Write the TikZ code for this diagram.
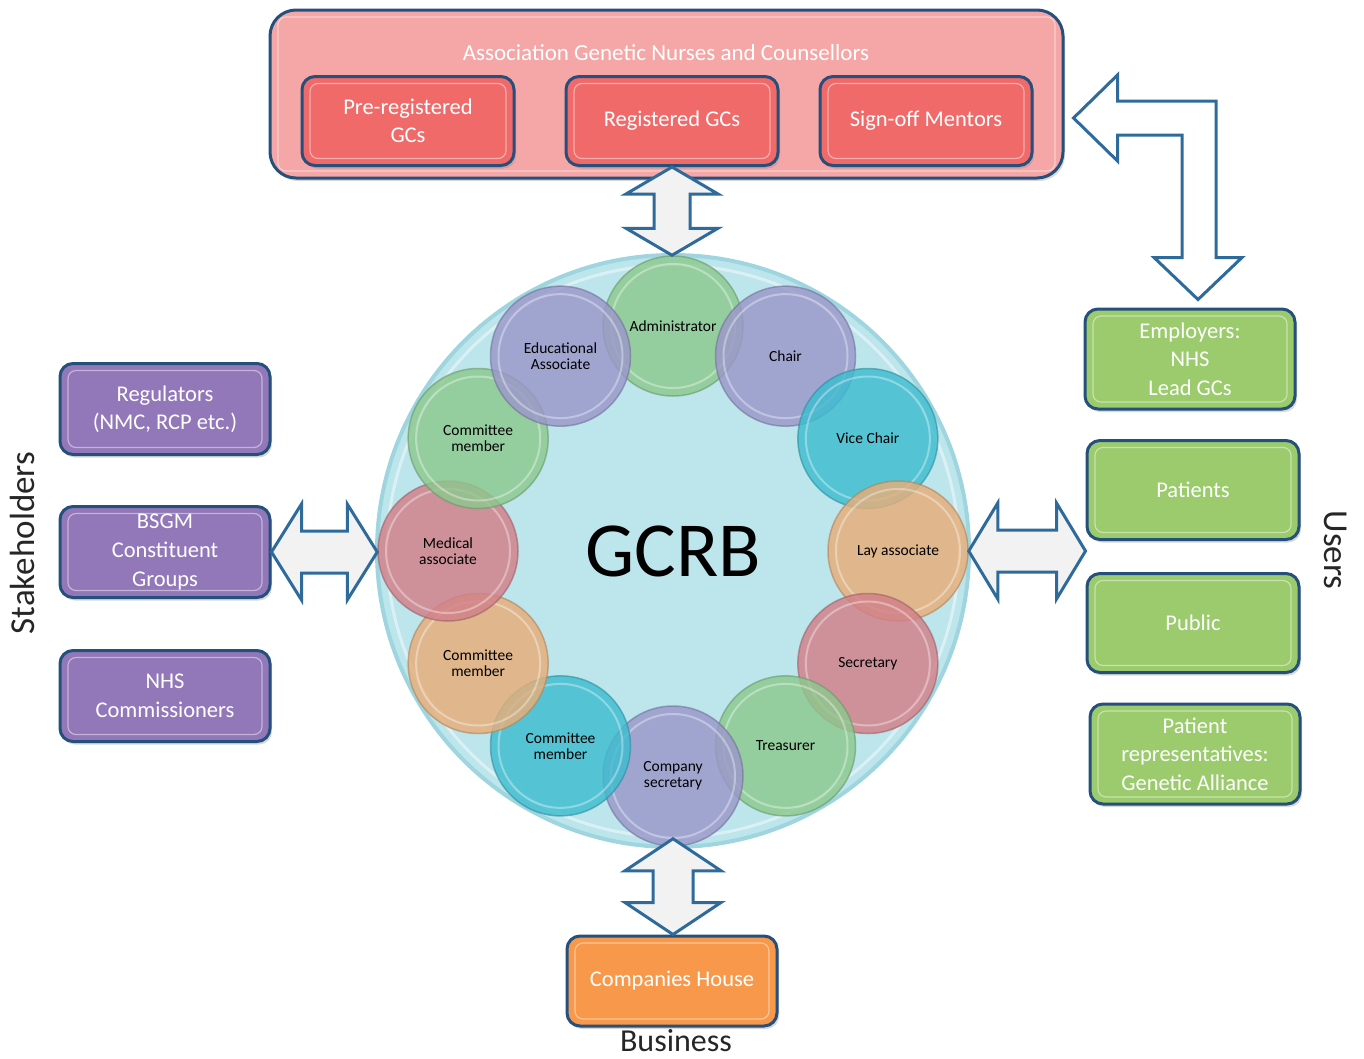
\documentclass[tikz,border=0pt]{standalone}
\usepackage{fontspec}
\setmainfont{Carlito}
\usetikzlibrary{calc,shadows}
\definecolor{boxline}{HTML}{25507C}
\definecolor{arrline}{HTML}{2E6B9B}
\definecolor{arrfill}{HTML}{F2F2F2}
\definecolor{agncfill}{HTML}{F4A7A6}
\definecolor{redbox}{HTML}{F06A6A}
\definecolor{purplebox}{HTML}{9278B9}
\definecolor{greenbox}{HTML}{9BCB6D}
\definecolor{orangebox}{HTML}{F7984A}
\definecolor{ringfill}{HTML}{BDE5EC}
\definecolor{ringline}{HTML}{9ED5DF}
\definecolor{cgreen}{HTML}{8DC98E}
\definecolor{cpurple}{HTML}{9A97CA}
\definecolor{ccyan}{HTML}{3DBDD0}
\definecolor{corange}{HTML}{E8AE78}
\definecolor{cred}{HTML}{D27F89}
\definecolor{labelgrey}{HTML}{262626}
\tikzset{
  boxbase/.style={draw=boxline, line width=3pt, rounded corners=13pt, text=white, align=center, inner sep=0pt,
    font=\fontsize{22.5}{28.5}\selectfont,
    drop shadow={shadow xshift=2pt, shadow yshift=-3pt, opacity=.3},
    path picture={\draw[white, opacity=.45, line width=1.2pt, rounded corners=8pt]
      ([shift={(8pt,-7pt)}]path picture bounding box.north west) rectangle
      ([shift={(-8pt,7pt)}]path picture bounding box.south east);}},
  member/.style={circle, minimum size=140pt, inner sep=0pt, fill=#1, draw=#1!75!black, fill opacity=.82,
    draw opacity=.6, line width=1.5pt, align=center, font=\fontsize{15.5}{16}\selectfont, text=black, text opacity=1,
    path picture={\draw[white, opacity=.35, line width=2pt] (path picture bounding box.center) circle (62pt);}},
  blockarrow/.style={draw=arrline, fill=arrfill, line width=3pt, line join=miter},
  bentarrow/.style={draw=arrline, fill=white, line width=3pt, line join=miter},
  sidelabel/.style={text=labelgrey, font=\fontsize{35}{40}\selectfont, inner sep=0pt}
}
\newcommand\vdarrow[5]{%
  \draw[blockarrow] let \p1=(#1), \p2=(#2) in
    (\x1,\y1) -- (\x1+#3pt,\y1-#5pt) -- (\x1+#4pt,\y1-#5pt) -- (\x1+#4pt,\y2+#5pt) -- (\x1+#3pt,\y2+#5pt)
    -- (\x1,\y2) -- (\x1-#3pt,\y2+#5pt) -- (\x1-#4pt,\y2+#5pt) -- (\x1-#4pt,\y1-#5pt) -- (\x1-#3pt,\y1-#5pt) -- cycle;}
\newcommand\hdarrow[5]{%
  \draw[blockarrow] let \p1=(#1), \p2=(#2) in
    (\x1,\y1) -- (\x1+#5pt,\y1+#3pt) -- (\x1+#5pt,\y1+#4pt) -- (\x2-#5pt,\y1+#4pt) -- (\x2-#5pt,\y1+#3pt)
    -- (\x2,\y1) -- (\x2-#5pt,\y1-#3pt) -- (\x2-#5pt,\y1-#4pt) -- (\x1+#5pt,\y1-#4pt) -- (\x1+#5pt,\y1-#3pt) -- cycle;}
\begin{document}
\begin{tikzpicture}[x=1pt,y=-1pt]
\useasboundingbox (0,0) rectangle (1364,1058);
\fill[white] (0,0) rectangle (1364,1058);

% central ring
\node[circle, minimum size=592pt, inner sep=0pt, fill=ringfill, draw=ringline, line width=4pt,
  path picture={\draw[white, opacity=.45, line width=3pt] (path picture bounding box.center) circle (286pt);}]
  (ring) at (673,551) {};

% members
\node[member=cgreen]  (adm)  at ({673+225*cos(90)},{551-225*sin(90)}) {Administrator};
\node[member=cpurple] (chair) at ({673+225*cos(60)},{551-225*sin(60)}) {Chair};
\node[member=ccyan]   (vice) at ({673+225*cos(30)},{551-225*sin(30)}) {Vice Chair};
\node[member=corange] (lay)  at ({673+225*cos(0)},{551-225*sin(0)}) {Lay associate};
\node[member=cred]    (sec)  at ({673+225*cos(-30)},{551-225*sin(-30)}) {Secretary};
\node[member=cgreen]  (tre)  at ({673+225*cos(-60)},{551-225*sin(-60)}) {Treasurer};
\node[member=cpurple] (cs)   at ({673+225*cos(-90)},{551-225*sin(-90)}) {Company\\secretary};
\node[member=ccyan]   (cm1)  at ({673+225*cos(-120)},{551-225*sin(-120)}) {Committee\\member};
\node[member=corange] (cm2)  at ({673+225*cos(-150)},{551-225*sin(-150)}) {Committee\\member};
\node[member=cred]    (med)  at ({673+225*cos(180)},{551-225*sin(180)}) {Medical\\associate};
\node[member=cgreen]  (cm3)  at ({673+225*cos(150)},{551-225*sin(150)}) {Committee\\member};
\node[member=cpurple] (edu)  at ({673+225*cos(120)},{551-225*sin(120)}) {Educational\\Associate};
\node[font=\fontsize{78}{82}\selectfont, text=black] (gcrb) at (673,551) {GCRB};

% top association
\node[boxbase, fill=agncfill, minimum width=793pt, minimum height=168pt, rounded corners=26pt] (agnc) at (666.5,94) {};
\node[text=white, font=\fontsize{23}{26}\selectfont] (agnct) at (666,53) {Association Genetic Nurses and Counsellors};
\node[boxbase, fill=redbox, minimum width=212pt, minimum height=89pt] (prereg) at (408,121) {Pre-registered\\GCs};
\node[boxbase, fill=redbox, minimum width=212pt, minimum height=89pt] (reg) at (672,121) {Registered GCs};
\node[boxbase, fill=redbox, minimum width=212pt, minimum height=89pt] (sign) at (926,121) {Sign-off Mentors};

% stakeholders
\node[boxbase, fill=purplebox, minimum width=210pt, minimum height=91pt] (regul) at (165,409) {Regulators\\(NMC, RCP etc.)};
\node[boxbase, fill=purplebox, minimum width=210pt, minimum height=91pt] (bsgm) at (165,552) {BSGM\\Constituent\\Groups};
\node[boxbase, fill=purplebox, minimum width=210pt, minimum height=91pt] (nhsc) at (165,696) {NHS\\Commissioners};

% users
\node[boxbase, fill=greenbox, minimum width=210pt, minimum height=100pt] (emp) at (1190,359) {Employers:\\NHS\\Lead GCs};
\node[boxbase, fill=greenbox, minimum width=212pt, minimum height=99pt] (pat) at (1193,490) {Patients};
\node[boxbase, fill=greenbox, minimum width=212pt, minimum height=99pt] (pub) at (1193,623) {Public};
\node[boxbase, fill=greenbox, minimum width=210pt, minimum height=100pt] (prep) at (1195,754) {Patient\\representatives:\\Genetic Alliance};

% business
\node[boxbase, fill=orangebox, minimum width=210pt, minimum height=90pt] (ch) at (672,981) {Companies House};

% arrows
\vdarrow{reg.south}{adm.north}{46}{18}{27}
\vdarrow{[yshift=8pt]cs.south}{ch.north}{48}{20}{32}
\hdarrow{bsgm.east}{med.west}{48}{21}{30}
\hdarrow{lay.east}{$(pat.south west)!.5!(pub.north west)$}{48}{21}{29}
\draw[bentarrow] let \p1=([shift={(9pt,-24pt)}]agnc.east), \p2=([shift={(8pt,8pt)}]emp.north) in
  (\x1,\y1) -- (\x1+44pt,\y1+43pt) -- (\x1+44pt,\y1+17pt) -- (\x2+18pt,\y1+17pt) -- (\x2+18pt,\y2+42pt)
  -- (\x2+44pt,\y2+42pt) -- (\x2,\y2) -- (\x2-44pt,\y2+42pt) -- (\x2-16pt,\y2+42pt) -- (\x2-16pt,\y1-17pt)
  -- (\x1+44pt,\y1-17pt) -- (\x1+44pt,\y1-43pt) -- cycle;

% side labels
\node[sidelabel, rotate=90] (stake) at (22,543) {Stakeholders};
\node[sidelabel, rotate=-90] (users) at (1336,550) {Users};
\node[sidelabel, font=\fontsize{32}{36}\selectfont] (bus) at (676,1041) {Business};
\end{tikzpicture}
\end{document}
